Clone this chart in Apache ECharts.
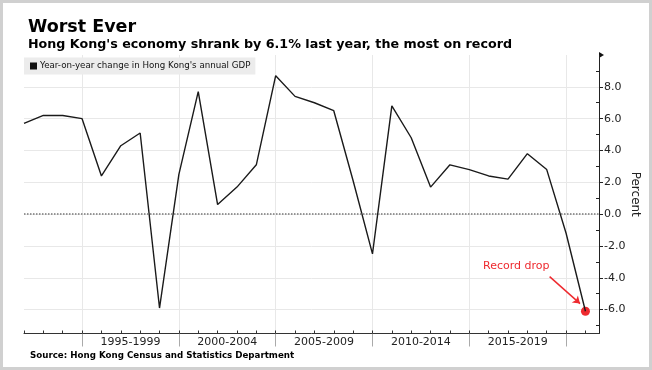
<!DOCTYPE html>
<html><head><meta charset="utf-8">
<script src="https://cdn.jsdelivr.net/npm/echarts@6/dist/echarts.min.js"></script>
<style>html,body{margin:0;padding:0;background:#fff}#c{width:652px;height:370px}</style>
</head><body><div id="c"></div>
<script>
const years = [1991,1992,1993,1994,1995,1996,1997,1998,1999,2000,2001,2002,2003,2004,2005,2006,2007,2008,2009,2010,2011,2012,2013,2014,2015,2016,2017,2018,2019,2020];
const gdpChange = [5.7,6.2,6.2,6.0,2.4,4.3,5.1,-5.9,2.5,7.7,0.6,1.7,3.1,8.7,7.4,7.0,6.5,2.1,-2.5,6.8,4.8,1.7,3.1,2.8,2.4,2.2,3.8,2.8,-1.2,-6.1];
const periodLabels = ['1995-1999','2000-2004','2005-2009','2010-2014','2015-2019'];
const periodBoundaries = [1994,1999,2004,2009,2014,2019];
const yTickValues = [-6,-4,-2,0,2,4,6,8];
const yMinorValues = [-7,-5,-3,-1,1,3,5,7,9];
const seriesName = "Year-on-year change in Hong Kong's annual GDP";

const labelPos = periodLabels.map((_, i) => (periodBoundaries[i] + periodBoundaries[i + 1]) / 2);
const lastIdx = years.length - 1;
const FONT = "'DejaVu Sans', Verdana, sans-serif";
const RED = '#ee2a2f';

const chart = echarts.init(document.getElementById('c'), null, {renderer: 'canvas'});
chart.setOption({
  animation: false,
  backgroundColor: '#fff',
  textStyle: {fontFamily: FONT},
  title: [
    {text: 'Worst Ever', left: 23, top: 13, textStyle: {fontFamily: FONT, fontSize: 17.5, fontWeight: 'bold', color: '#000'}},
    {text: "Hong Kong's economy shrank by 6.1% last year, the most on record", left: 23, top: 33, textStyle: {fontFamily: FONT, fontSize: 12.7, fontWeight: 'bold', color: '#000'}},
    {text: 'Source: Hong Kong Census and Statistics Department', left: 25, top: 346, textStyle: {fontFamily: FONT, fontSize: 8.7, fontWeight: 'bold', color: '#000'}}
  ],
  legend: {
    data: [seriesName], left: 24, top: 57.5, icon: 'rect', itemWidth: 7, itemHeight: 7, itemGap: 4,
    padding: [4, 5, 4, 6], backgroundColor: '#ececec', borderRadius: 0,
    textStyle: {fontFamily: FONT, fontSize: 8.7, color: '#111', padding: [0, 0, 0, -2]}
  },
  grid: {left: 24, right: 53, top: 55, bottom: 36.5, containLabel: false, outerBoundsMode: 'none'},
  xAxis: [
    {
      type: 'value', min: years[0], max: 2020.7, position: 'bottom',
      axisLine: {show: true, onZero: false, lineStyle: {color: '#333', width: 1}},
      axisTick: {show: true, customValues: periodBoundaries, length: 13, lineStyle: {color: '#aaa'}},
      axisLabel: {customValues: labelPos, formatter: v => periodLabels[labelPos.indexOf(v)] || '', margin: 3, fontFamily: FONT, fontSize: 11, color: '#222'},
      splitLine: {show: true, lineStyle: {color: '#e8e8e8', width: 1}}
    },
    {
      type: 'value', min: years[0], max: 2020.7, position: 'bottom',
      axisLine: {show: false, onZero: false},
      axisTick: {show: true, customValues: years, inside: true, length: 3, lineStyle: {color: '#333'}},
      axisLabel: {show: false}, splitLine: {show: false}
    }
  ],
  yAxis: [
    {
      type: 'value', min: -7.5, max: 10, position: 'right',
      axisLine: {show: true, onZero: false, lineStyle: {color: '#222', width: 1}},
      axisTick: {show: true, customValues: yTickValues, length: 4, lineStyle: {color: '#222'}},
      axisLabel: {customValues: yTickValues, formatter: v => v.toFixed(1), margin: 5, fontFamily: FONT, fontSize: 11, color: '#222'},
      splitLine: {show: true, lineStyle: {color: '#e8e8e8', width: 1}},
      name: 'Percent', nameLocation: 'middle', nameRotate: -90, nameGap: 30, nameMoveOverlap: false,
      nameTextStyle: {fontFamily: FONT, fontSize: 12, color: '#222'}
    },
    {
      type: 'value', min: -7.5, max: 10, position: 'right',
      axisLine: {show: false, onZero: false},
      axisTick: {show: true, customValues: yMinorValues, inside: true, length: 3, lineStyle: {color: '#222'}},
      axisLabel: {show: false}, splitLine: {show: false}
    }
  ],
  series: [
    {
      name: seriesName, type: 'line', xAxisIndex: 0, yAxisIndex: 0,
      data: years.map((y, i) => [y, gdpChange[i]]),
      showSymbol: false, symbol: 'none', color: '#111',
      lineStyle: {color: '#1a1a1a', width: 1.4},
      markLine: {
        silent: true, symbol: 'none', label: {show: false},
        lineStyle: {type: 'dotted', color: '#777', width: 1.5},
        data: [{yAxis: 0}]
      }
    },
    {
      name: 'record', type: 'scatter', xAxisIndex: 0, yAxisIndex: 0,
      data: [[years[lastIdx], gdpChange[lastIdx]]],
      symbolSize: 9, itemStyle: {color: RED, opacity: 1},
      markLine: {
        silent: true, symbol: ['none', 'arrow'], symbolSize: 7, label: {show: false},
        lineStyle: {type: 'solid', color: RED, width: 1.5},
        data: [[{coord: [2018.15, -3.93]}, {coord: [2019.72, -5.62]}]]
      }
    }
  ],
  graphic: [
    {type: 'text', left: 483, top: 261, style: {text: 'Record drop', fill: RED, font: "11px 'DejaVu Sans', sans-serif"}},
    {type: 'polygon', shape: {points: [[599, 52], [604, 55], [599, 58]]}, style: {fill: '#111'}},
    {type: 'rect', shape: {x: 0, y: 0, width: 652, height: 370}, style: {fill: null, stroke: '#d0d0d0', lineWidth: 6}, silent: true}
  ]
});
</script></body></html>
